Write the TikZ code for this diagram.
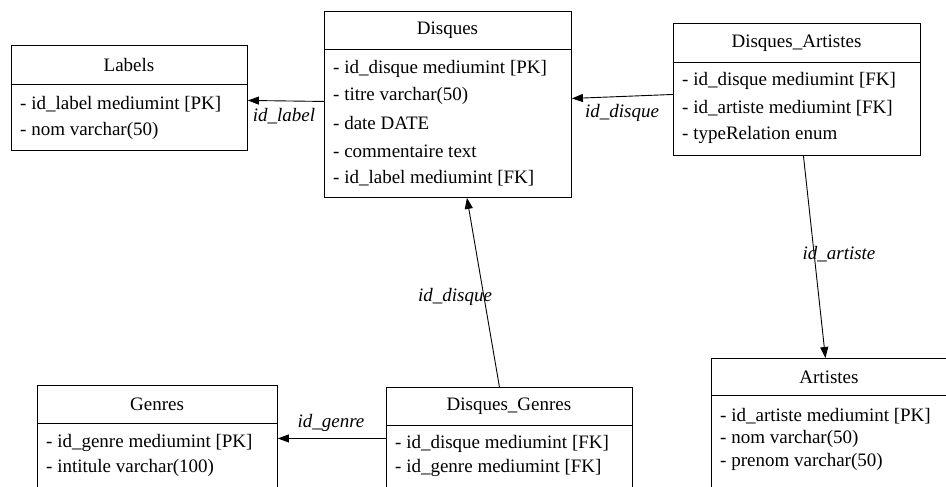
\documentclass[tikz,border=0pt]{standalone}
\usepackage{fontspec}
\setmainfont{Liberation Serif}
\usetikzlibrary{arrows.meta,calc}
\begin{document}
\begin{tikzpicture}[x=1pt,y=-1pt,
  tbl/.style={draw, line width=0.9pt, inner sep=0pt, anchor=north west},
  sepline/.style={line width=0.9pt},
  ttl/.style={font=\fontsize{19}{21}\selectfont, inner sep=0pt},
  fld/.style={font=\fontsize{19}{21}\selectfont, anchor=west, inner sep=0pt},
  rel/.style={font=\itshape\fontsize{19}{21}\selectfont, inner sep=0pt},
  arr/.style={-{Triangle[length=11pt,width=8pt]}, line width=0.9pt}]
\path[use as bounding box, clip] (0,0) rectangle (946,487);

% Labels
\node[tbl, minimum width=236pt, minimum height=105pt] (labels) at (11,45) {};
\draw[sepline] (11,84) -- (247,84);
\node[ttl] (labelsT) at (129,65) {Labels};
\node[fld] (labelsF1) at (20,104) {- id\_label mediumint [PK]};
\node[fld] (labelsF2) at (20,131) {- nom varchar(50)};

% Disques
\node[tbl, minimum width=247pt, minimum height=186pt] (disques) at (324,11) {};
\draw[sepline] (324,49) -- (571,49);
\node[ttl] (disquesT) at (447.5,30) {Disques};
\node[fld] (disquesF1) at (333,69) {- id\_disque mediumint [PK]};
\node[fld] (disquesF2) at (333,96) {- titre varchar(50)};
\node[fld] (disquesF3) at (333,123.5) {- date DATE};
\node[fld] (disquesF4) at (333,151) {- commentaire text};
\node[fld] (disquesF5) at (333,178) {- id\_label mediumint [FK]};

% Disques_Artistes
\node[tbl, minimum width=247pt, minimum height=132pt] (da) at (673,23) {};
\draw[sepline] (673,62) -- (920,62);
\node[ttl] (daT) at (796.5,43) {Disques\_Artistes};
\node[fld] (daF1) at (682,81) {- id\_disque mediumint [FK]};
\node[fld] (daF2) at (682,108) {- id\_artiste mediumint [FK]};
\node[fld] (daF3) at (682,135) {- typeRelation enum};

% Genres
\node[tbl, minimum width=240pt, minimum height=150pt] (genres) at (37,385) {};
\draw[sepline] (37,423) -- (277,423);
\node[ttl] (genresT) at (157,404) {Genres};
\node[fld] (genresF1) at (46,443) {- id\_genre mediumint [PK]};
\node[fld] (genresF2) at (46,468) {- intitule varchar(100)};

% Disques_Genres
\node[tbl, minimum width=246pt, minimum height=150pt] (dg) at (386,387) {};
\draw[sepline] (386,425) -- (632,425);
\node[ttl] (dgT) at (509,406) {Disques\_Genres};
\node[fld] (dgF1) at (395,444) {- id\_disque mediumint [FK]};
\node[fld] (dgF2) at (395,468) {- id\_genre mediumint [FK]};

% Artistes
\node[tbl, minimum width=236pt, minimum height=150pt] (artistes) at (711,358) {};
\draw[sepline] (711,395) -- (947,395);
\node[ttl] (artistesT) at (829,377) {Artistes};
\node[fld] (artistesF1) at (720,416) {- id\_artiste mediumint [PK]};
\node[fld] (artistesF2) at (720,439) {- nom varchar(50)};
\node[fld] (artistesF3) at (720,462) {- prenom varchar(50)};

% Relations
\draw[arr] ([yshift=3pt]disques.west) -- ([yshift=-2.5pt]labels.east);
\node[rel] (r1) at (284,116) {id\_label};

\draw[arr] ([yshift=-5pt]da.west) -- ([yshift=6pt]disques.east);
\node[rel] (r2) at (622,113) {id\_disque};

\draw[arr] ([xshift=-10pt]dg.north) -- ([xshift=19pt]disques.south);
\node[rel] (r3) at (455,297) {id\_disque};

\draw[arr] ([xshift=6.5pt]da.south) -- ([xshift=-4pt]artistes.north);
\node[rel] (r4) at (839,254) {id\_artiste};

\draw[arr] ([yshift=24pt]dg.west) -- ([yshift=22pt]genres.east);
\node[rel] (r5) at (331,423) {id\_genre};
\end{tikzpicture}
\end{document}
